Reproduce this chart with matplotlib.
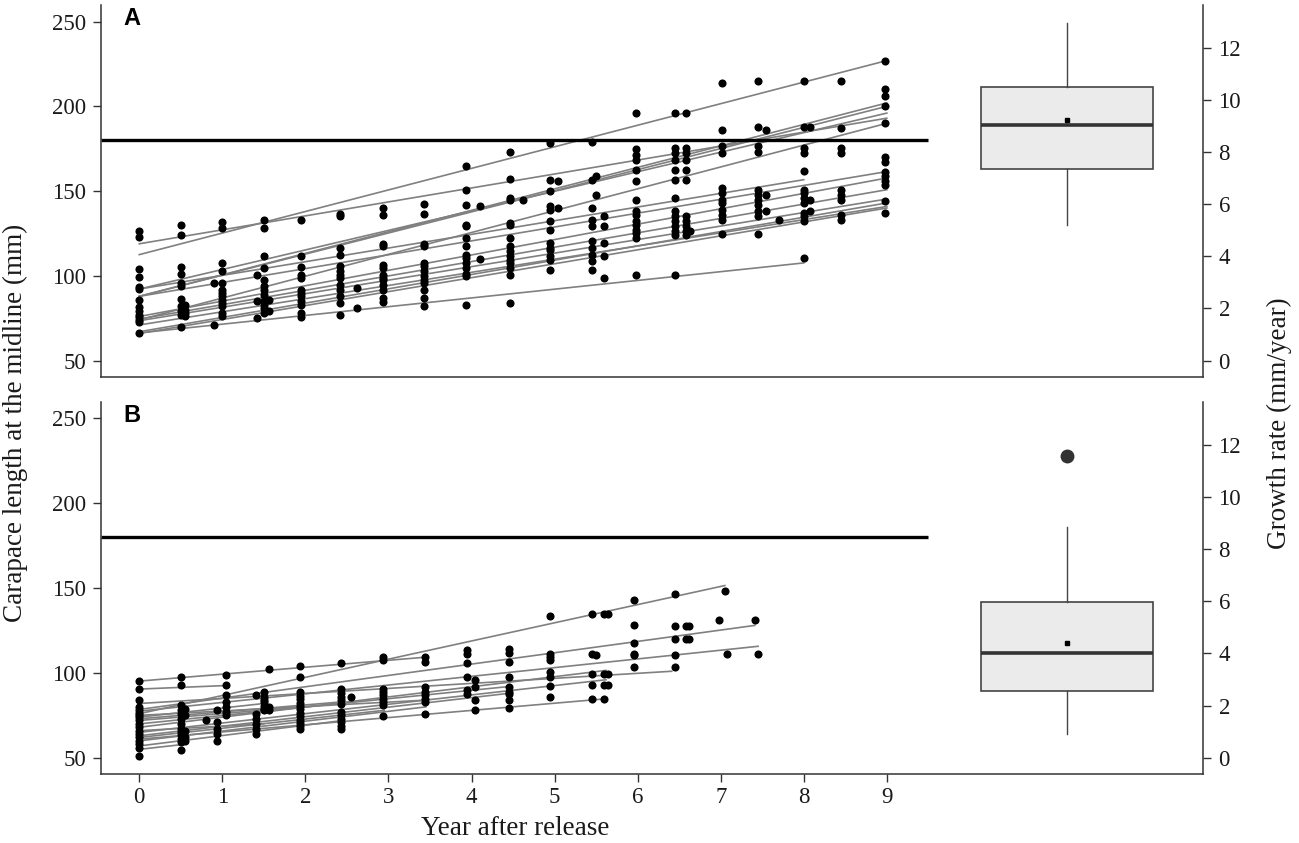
import matplotlib
matplotlib.use('Agg')
import matplotlib.pyplot as plt
import numpy as np

plt.rcParams['font.family'] = ['Liberation Serif', 'DejaVu Serif']

# ---------------- data ----------------
# Panel A : measured carapace lengths, grouped by measurement time (years after release)
A_times = [0.0, 0.5, 0.55, 0.9, 1.0, 1.42, 1.5, 1.56, 1.95, 2.42, 2.62, 2.93, 3.43, 3.93, 4.1,
           4.46, 4.62, 4.95, 5.04, 5.45, 5.5, 5.6, 5.98, 6.45, 6.58, 6.63, 7.02, 7.45, 7.55,
           7.7, 8.0, 8.08, 8.45, 8.98]
A_lengths = [
    [126.6, 122.9, 104.0, 99.3, 93.5, 92.0, 85.9, 81.5, 79.0, 77.0, 75.5, 74.0, 73.0, 66.3],
    [130.1, 124.2, 105.0, 101.3, 95.8, 93.8, 86.1, 82.0, 79.1, 77.1, 69.9],
    [83.0, 80.0, 78.0, 76.0],
    [95.8, 70.9],
    [131.5, 128.2, 107.6, 102.6, 95.8, 91.8, 89.9, 87.9, 85.9, 84.0, 82.0, 78.1, 76.5],
    [100.7, 84.9, 75.2],
    [132.7, 128.2, 111.5, 104.6, 97.7, 93.8, 91.8, 88.9, 84.9, 83.0, 81.1, 78.1],
    [85.5, 79.0],
    [133.1, 111.9, 105.0, 100.7, 98.7, 91.8, 89.9, 87.9, 84.9, 83.0, 78.1, 75.8],
    [136.6, 135.4, 116.4, 112.5, 105.6, 102.6, 100.7, 98.7, 94.8, 91.8, 87.9, 84.0, 77.1],
    [92.8, 81.1],
    [140.0, 136.0, 118.9, 117.4, 106.6, 104.6, 100.7, 98.7, 97.7, 94.8, 91.8, 86.9, 84.4],
    [142.5, 136.6, 118.9, 117.8, 107.6, 105.6, 102.6, 99.7, 97.7, 95.8, 91.8, 86.9, 82.4],
    [164.9, 150.8, 141.9, 130.1, 129.1, 122.3, 117.8, 112.5, 110.5, 107.6, 104.6, 101.3, 99.7, 82.6],
    [140.9, 110.0],
    [173.0, 157.1, 146.2, 144.9, 131.1, 130.1, 122.3, 117.4, 114.4, 111.5, 109.5, 107.6, 104.6, 100.7, 84.0],
    [144.5],
    [178.3, 156.7, 149.8, 140.9, 139.0, 132.1, 127.2, 119.4, 116.4, 115.4, 111.5, 109.5, 103.6],
    [155.7, 140.0],
    [178.9, 156.7, 140.0, 133.1, 129.1, 120.3, 116.4, 112.5, 108.5, 103.6],
    [158.6, 147.8],
    [135.0, 129.1, 119.4, 111.5, 98.7],
    [195.9, 174.7, 171.4, 168.4, 162.5, 155.7, 144.9, 138.0, 136.0, 132.1, 130.1, 127.2, 125.2, 122.3, 100.7],
    [195.9, 175.3, 172.4, 168.4, 162.5, 156.7, 145.8, 138.0, 135.0, 132.1, 129.1, 126.2, 124.2, 100.7],
    [195.9, 175.3, 172.4, 168.4, 162.5, 156.7, 135.0, 132.1, 129.1, 126.2, 124.2],
    [126.2],
    [214.0, 186.1, 176.3, 172.4, 151.8, 148.8, 144.9, 142.9, 139.0, 136.0, 133.1, 124.6],
    [215.0, 188.0, 176.3, 173.3, 150.8, 147.8, 144.9, 142.0, 138.0, 135.0, 124.6],
    [186.1, 147.8, 138.0],
    [133.0],
    [215.0, 188.0, 175.3, 172.4, 162.0, 150.8, 148.8, 145.8, 142.9, 137.0, 135.0, 132.1, 110.5],
    [187.7, 145.0, 138.0],
    [215.0, 187.5, 175.3, 172.4, 150.8, 147.8, 144.9, 136.0, 133.1],
    [226.9, 210.1, 206.2, 199.9, 190.1, 170.0, 166.9, 161.0, 158.6, 155.7, 153.7, 143.9, 137.0],
]
# Panel A : individual fitted growth lines (start year, start length, end year, end length)
A_fit_x0 = [0, 0, 0, 0, 0, 0, 0, 0, 0, 0, 0, 0, 0, 0, 0]
A_fit_y0 = [112.5, 118.9, 87.9, 87.9, 92.2, 74.0, 87.9, 92.2, 76.0, 74.5, 73.5, 71.0, 67.0, 66.0, 66.3]
A_fit_x1 = [9, 9, 9, 9, 9, 9, 9, 8, 9, 9, 9, 9, 9, 9, 8]
A_fit_y1 = [227.0, 193.0, 202.0, 200.0, 196.0, 190.0, 161.5, 156.7, 157.7, 150.8, 145.3, 140.9, 143.0, 140.0, 107.6]

# Panel B
B_times = [0.0, 0.5, 0.55, 0.8, 0.93, 1.04, 1.4, 1.5, 1.56, 1.94, 2.43, 2.55, 2.94, 3.44, 3.95,
           4.04, 4.45, 4.95, 5.45, 5.5, 5.6, 5.64, 5.96, 6.45, 6.58, 6.62, 6.98, 7.05, 7.07,
           7.41, 7.45]
B_lengths = [
    [95.2, 90.7, 84.2, 79.9, 77.9, 76.5, 75.0, 74.0, 72.0, 70.0, 68.0, 66.0, 64.0, 62.0, 60.0, 58.0, 56.0, 50.8],
    [97.6, 92.7, 80.9, 77.9, 76.0, 73.0, 70.1, 67.1, 65.2, 63.2, 61.3, 59.3, 54.7],
    [79.0, 75.0, 66.0, 62.0, 60.0],
    [72.4],
    [77.9, 71.0, 67.0, 64.0, 60.2],
    [98.6, 92.7, 86.8, 82.8, 79.9, 76.9, 75.0],
    [86.8, 76.0, 73.0, 70.1, 67.1, 64.2],
    [88.7, 86.0, 84.0, 82.8, 80.5, 78.5, 77.9],
    [102.5, 80.0, 78.0],
    [104.1, 97.6, 88.7, 86.5, 84.5, 82.5, 80.5, 78.5, 76.5, 74.5, 72.5, 70.5, 68.5, 67.1],
    [106.1, 90.3, 88.0, 86.0, 84.0, 82.0, 77.0, 75.0, 73.0, 71.0, 69.0, 67.1],
    [85.8],
    [109.3, 107.4, 90.7, 88.7, 86.8, 84.8, 82.8, 80.9, 74.4],
    [109.3, 106.4, 91.7, 88.7, 86.8, 84.8, 82.8, 76.0],
    [113.3, 111.3, 106.1, 97.6, 89.7, 87.8],
    [95.7, 91.7, 84.2, 78.3],
    [114.3, 111.8, 106.7, 97.6, 91.7, 88.7, 87.4, 84.2, 79.3],
    [133.6, 111.4, 109.3, 107.8, 100.5, 97.6, 92.1, 85.8],
    [134.6, 111.4, 99.6, 92.7, 84.8],
    [110.8],
    [134.6, 99.6, 92.7, 84.8],
    [134.6, 99.6, 92.7],
    [142.8, 128.5, 117.8, 111.4, 110.5, 103.5],
    [146.3, 127.5, 120.2, 110.8, 103.5],
    [127.5, 120.2],
    [127.5, 120.2],
    [131.0],
    [148.1],
    [111.4],
    [131.0],
    [111.4],
]
B_fit_x0 = [0, 0, 0, 0, 0, 0, 0, 0, 0, 0, 0, 0, 0, 0, 0, 0, 0, 0, 0, 0]
B_fit_y0 = [95.2, 90.5, 76.0, 78.5, 77.5, 82.0, 68.0, 65.0, 61.0, 75.0, 73.0, 70.0, 63.0, 60.0, 57.0, 72.0, 66.0, 62.0, 74.0, 55.0]
B_fit_x1 = [3.45, 1.0, 7.05, 7.41, 7.45, 6.41, 5.62, 5.62, 5.62, 3.45, 2.45, 4.45, 4.45, 3.45, 2.45, 1.95, 1.5, 2.95, 1.5, 0.55]
B_fit_y1 = [109.3, 92.5, 151.5, 128.0, 115.7, 101.0, 101.5, 96.0, 84.8, 84.0, 83.0, 92.0, 88.0, 80.0, 72.0, 80.0, 70.0, 78.0, 82.0, 58.0]

# Growth-rate box plots (mm/year)
A_box = dict(whislo=5.19, q1=7.35, med=9.04, mean=9.23, q3=10.5, whishi=12.96, fliers=[])
B_box = dict(whislo=0.93, q1=2.56, med=4.0, mean=4.41, q3=5.98, whishi=8.84, fliers=[11.57])

THRESHOLD = 180
THRESH_END = 9.5
BOX_POS = 11.17
BOX_WIDTH = 2.08
XLIM = (-0.465, 12.81)
YLIM = (40.3, 259.8)
Y2LIM = (-0.63, 13.65)

# ---------------- figure ----------------
fig = plt.figure(figsize=(12.99, 8.43), dpi=100)
axA = fig.add_axes([0.0775, 0.5528, 0.8488, 0.4413])
axB = fig.add_axes([0.0775, 0.0815, 0.8488, 0.442])

spine_col = '#333333'


def draw_panel(ax, times, lengths, fx0, fy0, fx1, fy1, box, label, show_x):
    for a, b, c, d in zip(fx0, fy0, fx1, fy1):
        ax.plot([a, c], [b, d], color='#808080', lw=1.2, zorder=2)
    xs, ys = [], []
    for t, vals in zip(times, lengths):
        xs.extend([t] * len(vals))
        ys.extend(vals)
    ax.scatter(xs, ys, s=34, color='black', linewidths=0, zorder=3)
    ax.plot([XLIM[0], THRESH_END], [THRESHOLD, THRESHOLD], color='black', lw=2.4,
            solid_capstyle='butt', zorder=2)
    ax.set_xlim(*XLIM)
    ax.set_ylim(*YLIM)
    ax.set_yticks([50, 100, 150, 200, 250])
    for s in ['top', 'right']:
        ax.spines[s].set_visible(False)
    for s in ['left', 'bottom']:
        ax.spines[s].set_color(spine_col)
        ax.spines[s].set_linewidth(1.1)
    ax.tick_params(axis='y', length=5.5, width=1.0, color=spine_col, labelsize=16.5,
                   labelcolor='#1a1a1a', pad=5)
    if show_x:
        ax.set_xticks(range(0, 10))
        ax.tick_params(axis='x', length=5.5, width=1.0, color=spine_col, labelsize=16.5,
                       labelcolor='#1a1a1a', pad=4)
    else:
        ax.set_xticks([])
    ax.text(0.0202, 0.945, label, transform=ax.transAxes, fontfamily='Liberation Sans',
            fontweight='bold', fontsize=17, va='baseline', ha='left')

    tw = ax.twinx()
    tw.set_ylim(*Y2LIM)
    tw.set_yticks(range(0, 13, 2))
    for s in ['top', 'left', 'bottom']:
        tw.spines[s].set_visible(False)
    tw.spines['right'].set_color(spine_col)
    tw.spines['right'].set_linewidth(1.1)
    tw.tick_params(axis='y', length=6, width=1.0, color=spine_col, labelsize=16.5,
                   labelcolor='#1a1a1a', pad=5)
    tw.bxp([box], positions=[BOX_POS], widths=BOX_WIDTH, patch_artist=True,
           showmeans=True, showcaps=False, manage_ticks=False,
           boxprops=dict(facecolor='#ebebeb', edgecolor='#444444', linewidth=1.2),
           medianprops=dict(color='#333333', linewidth=2.6),
           whiskerprops=dict(color='#444444', linewidth=1.0),
           meanprops=dict(marker='s', markerfacecolor='black', markeredgecolor='black', markersize=3.5),
           flierprops=dict(marker='o', markerfacecolor='#333333', markeredgecolor='#333333', markersize=9))
    tw.set_xlim(*XLIM)
    return tw


draw_panel(axA, A_times, A_lengths, A_fit_x0, A_fit_y0, A_fit_x1, A_fit_y1, A_box, 'A', False)
draw_panel(axB, B_times, B_lengths, B_fit_x0, B_fit_y0, B_fit_x1, B_fit_y1, B_box, 'B', True)

fig.text(0.0115, 0.498, 'Carapace length at the midline (mm)', rotation=90,
         ha='center', va='center', fontsize=19.5, color='#1a1a1a')
fig.text(0.985, 0.498, 'Growth rate (mm/year)', rotation=90,
         ha='center', va='center', fontsize=19.5, color='#1a1a1a')
fig.text(0.3965, 0.0175, 'Year after release', ha='center', va='center', fontsize=19.5,
         color='#1a1a1a')

fig.savefig('out.png', dpi=100)
